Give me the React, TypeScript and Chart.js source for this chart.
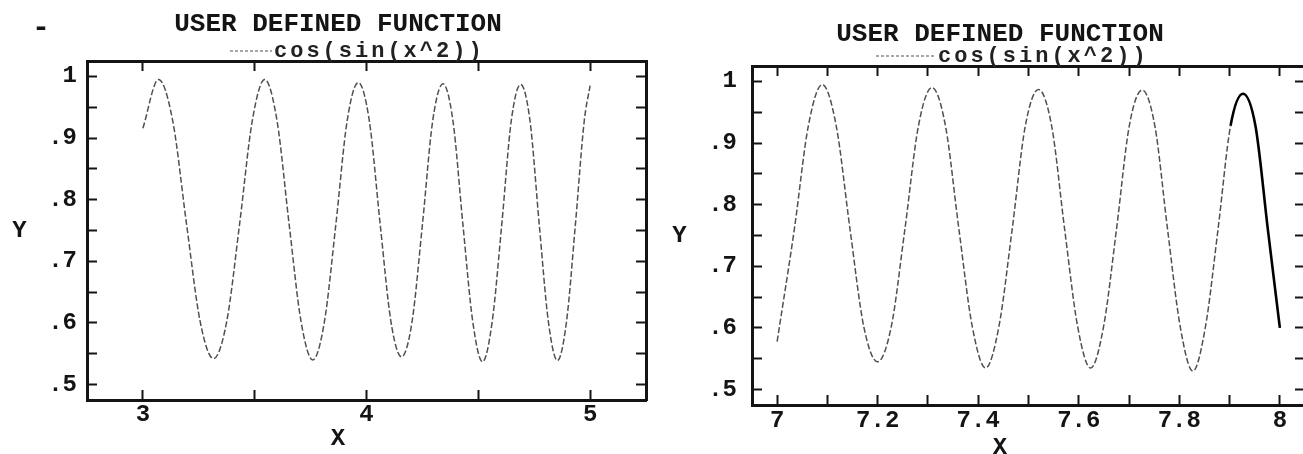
import React, { useEffect, useRef } from 'react';
import { Chart, registerables } from 'chart.js';

Chart.register(...registerables);

const FONT = "'Liberation Mono', 'DejaVu Sans Mono', monospace";
const INK = '#141414';

const titleText = 'USER DEFINED FUNCTION';
const seriesLabel = 'cos(sin(x^2))';
const xAxisTitle = 'X';
const yAxisTitle = 'Y';

// Left panel: x from 3 to 5
const leftX = [
  3.0, 3.07, 3.1333, 3.1953, 3.2562, 3.316, 3.3747, 3.4323, 3.4891, 3.5449,
  3.5999, 3.654, 3.7074, 3.7599, 3.8118, 3.863, 3.9135, 3.9633, 4.0126, 4.0612,
  4.1093, 4.1568, 4.2037, 4.2502, 4.2961, 4.3416, 4.3866, 4.4311, 4.4752, 4.5189,
  4.5621, 4.605, 4.6474, 4.6895, 4.7312, 4.7725, 4.8134, 4.8541, 4.8944, 4.9343,
  4.9739, 5.0,
];
const leftY = [
  0.916, 0.995, 0.928, 0.76, 0.602, 0.542, 0.602, 0.76, 0.928, 0.995,
  0.928, 0.76, 0.602, 0.54, 0.602, 0.76, 0.928, 0.99, 0.928, 0.76,
  0.602, 0.545, 0.602, 0.76, 0.928, 0.988, 0.928, 0.76, 0.602, 0.537,
  0.602, 0.76, 0.928, 0.987, 0.928, 0.76, 0.602, 0.539, 0.602, 0.76,
  0.928, 0.985,
];

// Right panel: x from 7 to 8
const rightX = [
  7.0, 7.0342, 7.0621, 7.0898, 7.1175, 7.145, 7.1724, 7.1997, 7.227, 7.2541,
  7.2811, 7.308, 7.3348, 7.3616, 7.3882, 7.4147, 7.4411, 7.4675, 7.4937, 7.5199,
  7.546, 7.5719, 7.5978, 7.6236, 7.6493, 7.675, 7.7005, 7.726, 7.7513, 7.7766,
  7.8018, 7.827, 7.852, 7.877, 7.9019, 7.9267, 7.9514, 7.9761, 8.0,
];
const rightY = [
  0.578, 0.76, 0.928, 0.995, 0.928, 0.76, 0.602, 0.545, 0.602, 0.76,
  0.928, 0.99, 0.928, 0.76, 0.602, 0.535, 0.602, 0.76, 0.928, 0.987,
  0.928, 0.76, 0.602, 0.535, 0.602, 0.76, 0.928, 0.986, 0.928, 0.76,
  0.602, 0.53, 0.602, 0.76, 0.928, 0.98, 0.928, 0.76, 0.6,
];

const leftXTickValues = [3, 3.5, 4, 4.5, 5];
const leftXTickLabels = ['3', '', '4', '', '5'];
const rightXTickValues = [7, 7.1, 7.2, 7.3, 7.4, 7.5, 7.6, 7.7, 7.8, 7.9, 8];
const rightXTickLabels = ['7', '', '7.2', '', '7.4', '', '7.6', '', '7.8', '', '8'];
const yTickValues = [0.5, 0.55, 0.6, 0.65, 0.7, 0.75, 0.8, 0.85, 0.9, 0.95, 1];
const yTickLabels = ['.5', '', '.6', '', '.7', '', '.8', '', '.9', '', '1'];

const leftXRange = [2.75, 5.25];
const rightXRange = [6.95, 8.05];
const yRange = [0.475, 1.025];
const rightDarkFrom = 7.9;

type PanelSpec = {
  xs: number[];
  ys: number[];
  xRange: number[];
  xTicks: number[];
  xLabels: string[];
  canvasLeft: number;
  width: number;
  padLeft: number;
  padRight: number;
  yWidth: number;
  titleTop: number;
  titleBottom: number;
  xHeight: number;
  subBottom: number;
  yPad: number;
  xPad: number;
  sampleFrom: number;
  sampleTo: number;
  darkFrom?: number;
  mark?: boolean;
};

const decorPlugin = {
  id: 'decor',
  afterDraw(chart: any, _args: any, opts: any) {
    const { ctx, chartArea } = chart;
    const ds = chart.data.datasets[0];
    ctx.save();
    // legend sample line + label
    const base = chartArea.top - 4;
    ctx.strokeStyle = '#8a8a8a';
    ctx.lineWidth = 1.5;
    ctx.setLineDash([3, 2]);
    ctx.beginPath();
    ctx.moveTo(chartArea.left + opts.sampleFrom, base - 6);
    ctx.lineTo(chartArea.left + opts.sampleTo, base - 6);
    ctx.stroke();
    ctx.setLineDash([]);
    ctx.font = `bold 22px ${FONT}`;
    (ctx as any).letterSpacing = '3px';
    ctx.fillStyle = '#222';
    ctx.textAlign = 'left';
    ctx.textBaseline = 'alphabetic';
    ctx.fillText(ds.label, chartArea.left + opts.sampleTo + 2, base);
    (ctx as any).letterSpacing = '0px';
    // upright Y axis title
    ctx.font = `bold 24px ${FONT}`;
    ctx.fillStyle = INK;
    ctx.textAlign = 'center';
    ctx.textBaseline = 'middle';
    ctx.fillText(opts.yTitle, opts.yTitleX, (chartArea.top + chartArea.bottom) / 2);
    if (opts.mark) {
      ctx.font = `bold 30px ${FONT}`;
      ctx.fillText('-', 41, 28);
    }
    ctx.restore();
  },
};

function axisStyle() {
  return {
    border: { display: true, color: INK, width: 3 },
    grid: {
      drawOnChartArea: false,
      drawTicks: true,
      tickLength: -10,
      tickWidth: 2,
      tickColor: INK,
    },
  };
}

function tickFont() {
  return { family: FONT, size: 24, weight: 'bold' as const, lineHeight: 1 };
}

function buildConfig(p: PanelSpec): any {
  const dark = p.darkFrom;
  const isDark = (c: any) => dark !== undefined && c.p0.parsed.x >= dark;
  return {
    type: 'line',
    data: {
      datasets: [
        {
          label: seriesLabel,
          data: p.xs.map((x, i) => ({ x, y: p.ys[i] })),
          borderColor: '#505050',
          borderWidth: 1.5,
          borderDash: [6, 2.5],
          pointRadius: 0,
          fill: false,
          cubicInterpolationMode: 'monotone',
          segment: {
            borderColor: (c: any) => (isDark(c) ? '#000' : undefined),
            borderWidth: (c: any) => (isDark(c) ? 2.6 : undefined),
            borderDash: (c: any) => (isDark(c) ? [] : undefined),
          },
        },
      ],
    },
    options: {
      animation: false,
      responsive: false,
      devicePixelRatio: 1,
      layout: { padding: { left: p.padLeft, right: p.padRight, top: 0, bottom: 0 } },
      plugins: {
        legend: { display: false },
        tooltip: { enabled: false },
        title: {
          display: true,
          text: titleText,
          color: INK,
          font: { family: FONT, size: 26, weight: 'bold', lineHeight: 1 },
          padding: { top: p.titleTop, bottom: p.titleBottom },
        },
        subtitle: {
          display: true,
          position: 'bottom',
          text: xAxisTitle,
          color: INK,
          font: { family: FONT, size: 24, weight: 'bold', lineHeight: 0.5 },
          padding: { top: 0, bottom: p.subBottom },
        },
        decor: {
          sampleFrom: p.sampleFrom,
          sampleTo: p.sampleTo,
          yTitle: yAxisTitle,
          yTitleX: 19.5,
          mark: !!p.mark,
        },
      },
      scales: {
        x: {
          type: 'linear',
          position: 'bottom',
          min: p.xRange[0],
          max: p.xRange[1],
          afterBuildTicks: (s: any) => {
            s.ticks = p.xTicks.map((v) => ({ value: v }));
          },
          afterFit: (s: any) => {
            s.height = p.xHeight;
          },
          ticks: {
            autoSkip: false,
            maxRotation: 0,
            minRotation: 0,
            padding: p.xPad,
            color: INK,
            font: tickFont(),
            callback: (_v: any, i: number) => p.xLabels[i],
          },
          ...axisStyle(),
        },
        x2: {
          type: 'linear',
          position: 'top',
          min: p.xRange[0],
          max: p.xRange[1],
          afterBuildTicks: (s: any) => {
            s.ticks = p.xTicks.map((v) => ({ value: v }));
          },
          afterFit: (s: any) => {
            s.height = 0;
          },
          ticks: { display: false, autoSkip: false },
          ...axisStyle(),
        },
        y: {
          type: 'linear',
          position: 'left',
          min: yRange[0],
          max: yRange[1],
          afterBuildTicks: (s: any) => {
            s.ticks = yTickValues.map((v) => ({ value: v }));
          },
          afterFit: (s: any) => {
            s.width = p.yWidth;
          },
          ticks: {
            autoSkip: false,
            padding: p.yPad,
            color: INK,
            font: tickFont(),
            callback: (_v: any, i: number) => yTickLabels[i],
          },
          ...axisStyle(),
        },
        y2: {
          type: 'linear',
          position: 'right',
          min: yRange[0],
          max: yRange[1],
          afterBuildTicks: (s: any) => {
            s.ticks = yTickValues.map((v) => ({ value: v }));
          },
          afterFit: (s: any) => {
            s.width = 0;
          },
          ticks: { display: false, autoSkip: false },
          ...axisStyle(),
        },
      },
    },
    plugins: [decorPlugin],
  };
}

const leftPanel: PanelSpec = {
  xs: leftX,
  ys: leftY,
  xRange: leftXRange,
  xTicks: leftXTickValues,
  xLabels: leftXTickLabels,
  canvasLeft: 0,
  width: 660,
  padLeft: 30,
  padRight: 14,
  yWidth: 57,
  titleTop: 11,
  titleBottom: 24,
  xHeight: 33,
  subBottom: 9,
  yPad: 20,
  xPad: 13,
  sampleFrom: 143,
  sampleTo: 185,
  mark: true,
};

const rightPanel: PanelSpec = {
  xs: rightX,
  ys: rightY,
  xRange: rightXRange,
  xTicks: rightXTickValues,
  xLabels: rightXTickLabels,
  canvasLeft: 660,
  width: 650,
  padLeft: 35,
  padRight: 5,
  yWidth: 57,
  titleTop: 21,
  titleBottom: 19,
  xHeight: 37,
  subBottom: 0,
  yPad: 25,
  xPad: 14,
  sampleFrom: 124,
  sampleTo: 184,
  darkFrom: rightDarkFrom,
};

function Panel({ spec }: { spec: PanelSpec }) {
  const ref = useRef<HTMLCanvasElement>(null);
  useEffect(() => {
    const chart = new Chart(ref.current as HTMLCanvasElement, buildConfig(spec));
    return () => chart.destroy();
  }, [spec]);
  return (
    <canvas
      ref={ref}
      width={spec.width}
      height={454}
      style={{ position: 'absolute', left: spec.canvasLeft, top: 0, width: spec.width, height: 454 }}
    />
  );
}

export default function App() {
  return (
    <div
      style={{
        position: 'absolute',
        left: 0,
        top: 0,
        width: 1303,
        height: 454,
        overflow: 'hidden',
        background: '#fff',
      }}
    >
      <Panel spec={leftPanel} />
      <Panel spec={rightPanel} />
    </div>
  );
}
